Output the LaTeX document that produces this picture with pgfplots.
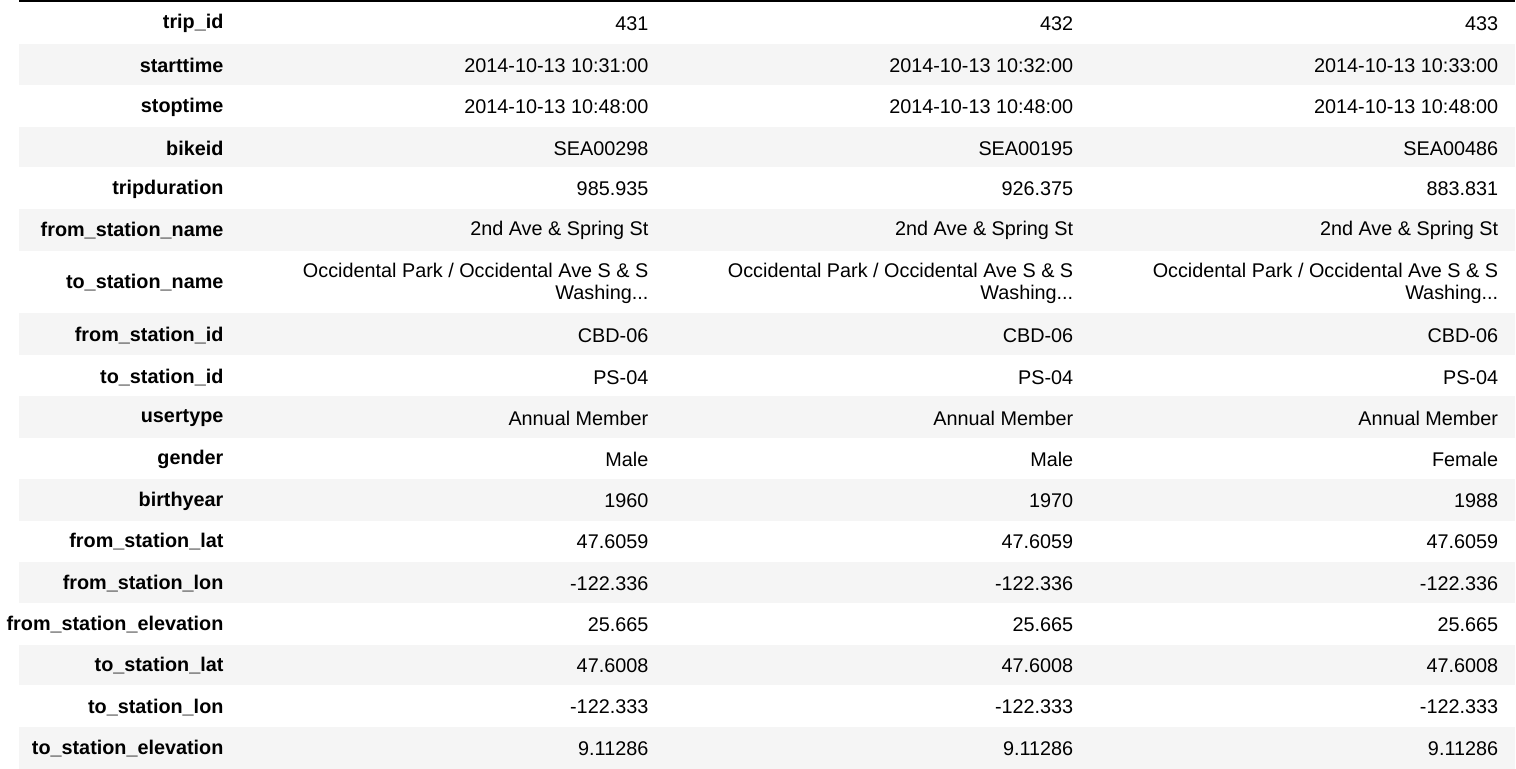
\documentclass[border=0pt]{standalone}
\usepackage{pgfplots}
\pgfplotsset{compat=1.18}
\usepackage{fontspec}
\setmainfont{Liberation Sans}
\definecolor{stripe}{HTML}{F5F5F5}
\begin{document}
\begin{tikzpicture}
\begin{axis}[scale only axis, width=758pt, height=391.5pt, xmin=0, xmax=1516, ymin=0, ymax=783, y dir=reverse, hide axis, clip=false,
  every node/.append style={font=\fontsize{7.7}{9.3}\selectfont, inner sep=0pt}]
\foreach \a/\b in {45/87,129/170,212/254,317/359,401/443,485/527,568/610,652/693,735/777}{
  \edef\tmp{\noexpand\addplot[fill=stripe, draw=none] coordinates {(3,\a) (1513,\a) (1513,\b) (3,\b)} --cycle;}
  \tmp
}
\addplot[black, line width=1pt] coordinates {(3,2) (1513,2)};
\foreach \y/\l/\a/\b/\c in {
25/trip\_id/431/432/433,
67/starttime/2014-10-13 10:31:00/2014-10-13 10:32:00/2014-10-13 10:33:00,
109/stoptime/2014-10-13 10:48:00/2014-10-13 10:48:00/2014-10-13 10:48:00,
151/bikeid/SEA00298/SEA00195/SEA00486,
192/tripduration/985.935/926.375/883.831,
234/from\_station\_name/2nd Ave \& Spring St/2nd Ave \& Spring St/2nd Ave \& Spring St,
340/from\_station\_id/CBD-06/CBD-06/CBD-06,
382/to\_station\_id/PS-04/PS-04/PS-04,
423/usertype/Annual Member/Annual Member/Annual Member,
465/gender/Male/Male/Female,
507/birthyear/1960/1970/1988,
548/from\_station\_lat/47.6059/47.6059/47.6059,
590/from\_station\_lon/-122.336/-122.336/-122.336,
632/from\_station\_elevation/25.665/25.665/25.665,
673/to\_station\_lat/47.6008/47.6008/47.6008,
715/to\_station\_lon/-122.333/-122.333/-122.333,
757/to\_station\_elevation/9.11286/9.11286/9.11286}{
  \edef\tmp{\noexpand\node[anchor=east] at (axis cs:216,\y) {\noexpand\textbf{\l}};
  \noexpand\node[anchor=east] at (axis cs:645,\y) {\a};
  \noexpand\node[anchor=east] at (axis cs:1074,\y) {\b};
  \noexpand\node[anchor=east] at (axis cs:1503,\y) {\c};}
  \tmp
}
\node[anchor=east] at (axis cs:216,286) {\textbf{to\_station\_name}};
\foreach \x in {645,1074,1503}{
  \edef\tmp{\noexpand\node[anchor=east] at (axis cs:\x,274) {Occidental Park / Occidental Ave S \noexpand\& S};
  \noexpand\node[anchor=east] at (axis cs:\x,298) {Washing...};}
  \tmp
}
\end{axis}
\end{tikzpicture}
\end{document}
